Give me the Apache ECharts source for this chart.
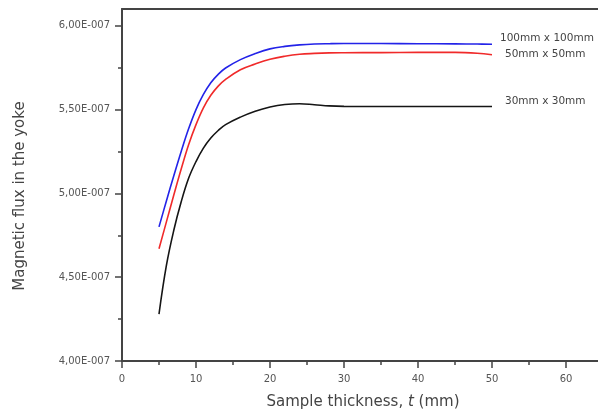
<!DOCTYPE html>
<html>
<head>
<meta charset="utf-8">
<script src="https://cdn.jsdelivr.net/npm/echarts@6/dist/echarts.min.js"></script>
<style>
  html, body { margin: 0; padding: 0; background: #fff; }
  #main { width: 598px; height: 415px; }
</style>
</head>
<body>
<div id="main"></div>
<script>
// sample thickness t (mm)
var thickness = [5, 6, 7, 8, 9, 10, 11, 12, 13, 14, 16, 18, 20, 22, 24, 26, 28, 30, 35, 40, 45, 48, 50];

// magnetic flux, in units of 1E-007
var flux100 = [4.80, 4.955, 5.105, 5.25, 5.385, 5.50, 5.59, 5.66, 5.71, 5.748, 5.798, 5.834, 5.862, 5.877, 5.886, 5.891, 5.893, 5.894, 5.894, 5.893, 5.892, 5.891, 5.89];
var flux50 = [4.67, 4.83, 4.99, 5.145, 5.29, 5.41, 5.51, 5.585, 5.64, 5.68, 5.738, 5.772, 5.80, 5.818, 5.83, 5.835, 5.838, 5.839, 5.84, 5.841, 5.841, 5.836, 5.827];
var flux30 = [4.28, 4.57, 4.78, 4.95, 5.09, 5.19, 5.27, 5.33, 5.375, 5.41, 5.455, 5.49, 5.515, 5.53, 5.535, 5.529, 5.522, 5.519, 5.518, 5.518, 5.518, 5.518, 5.518];

// y tick positions (1E-007)
var yTicks = [4.0, 4.5, 5.0, 5.5, 6.0];

var seriesNames = ['100mm x 100mm', '50mm x 50mm', '30mm x 30mm'];
var seriesColors = ['#2323e8', '#f02a2a', '#151515'];

var FONT = 'DejaVu Sans';

function pairs(ys) {
  return thickness.map(function (t, i) { return [t, ys[i]]; });
}

var chart = echarts.init(document.getElementById('main'));

function makeLine(idx, ys, dist, dy) {
  return {
    name: seriesNames[idx],
    type: 'line',
    data: pairs(ys),
    smooth: 0.4,
    showSymbol: false,
    lineStyle: { color: seriesColors[idx], width: 1.6 },
    itemStyle: { color: seriesColors[idx] },
    endLabel: {
      show: true,
      formatter: '{a}',
      distance: dist,
      offset: [0, dy],
      color: '#444',
      fontSize: 10.5,
      fontFamily: FONT
    },
    animation: false
  };
}

chart.setOption({
  backgroundColor: '#fff',
  grid: { left: 122, top: 9, width: 518, height: 352, outerBoundsMode: 'none' },
  xAxis: [{
    type: 'value',
    min: 0,
    max: 70,
    interval: 10,
    name: 'Sample thickness, {i|t} (mm)',
    nameLocation: 'middle',
    nameGap: 34,
    nameTextStyle: {
      color: '#444', fontSize: 15, fontFamily: FONT, padding: [0, 36, 0, 0],
      rich: { i: { fontStyle: 'italic', color: '#444', fontSize: 15, fontFamily: FONT } }
    },
    axisLine: { lineStyle: { color: '#444', width: 2 } },
    axisTick: { inside: false, length: 7, lineStyle: { color: '#444', width: 1.5 } },
    minorTick: { show: true, splitNumber: 2, length: 4, lineStyle: { color: '#444', width: 1.5 } },
    axisLabel: { color: '#555', fontSize: 10, fontFamily: FONT, margin: 13 },
    splitLine: { show: false }
  }, {
    type: 'value',
    position: 'top',
    min: 0,
    max: 70,
    axisLine: { show: true, lineStyle: { color: '#444', width: 2 } },
    axisTick: { show: false },
    axisLabel: { show: false },
    splitLine: { show: false }
  }],
  yAxis: {
    type: 'value',
    min: 4.0,
    max: 6.1,
    interval: 0.5,
    name: 'Magnetic flux in the yoke',
    nameLocation: 'middle',
    nameGap: 94,
    nameTextStyle: { color: '#444', fontSize: 15, fontFamily: FONT, padding: [0, 22, 0, 0] },
    axisLine: { show: true, lineStyle: { color: '#444', width: 2 } },
    axisTick: { inside: false, length: 7, customValues: yTicks, lineStyle: { color: '#444', width: 1.5 } },
    minorTick: { show: true, splitNumber: 2, length: 4, lineStyle: { color: '#444', width: 1.5 } },
    axisLabel: {
      color: '#555', fontSize: 10, fontFamily: FONT, margin: 12,
      customValues: yTicks,
      formatter: function (v) {
        return v.toFixed(2).replace('.', ',') + 'E-007';
      }
    },
    splitLine: { show: false }
  },
  series: [
    makeLine(0, flux100, 8, -6),
    makeLine(1, flux50, 13, 0),
    makeLine(2, flux30, 13, -5)
  ]
});
</script>
</body>
</html>
